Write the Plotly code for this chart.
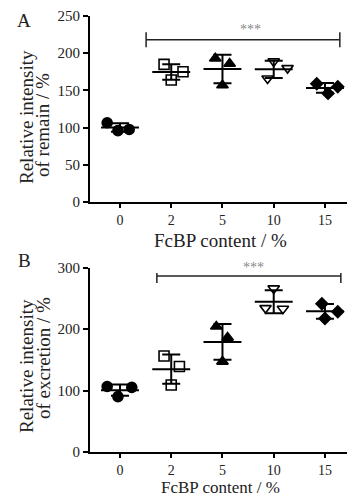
import numpy as np
import plotly.graph_objects as go

categories = ["0", "2", "5", "10", "15"]

# Panel A: relative intensity of remain (%), three replicates per group
remain = [
    [106.5, 96.0, 97.5],
    [185.0, 175.0, 164.0],
    [193.0, 186.0, 157.0],
    [189.0, 180.0, 166.0],
    [159.0, 155.0, 146.0],
]
# Panel B: relative intensity of excretion (%)
excretion = [
    [106.5, 90.0, 105.0],
    [156.0, 139.0, 109.0],
    [204.0, 186.0, 147.0],
    [266.0, 234.0, 233.0],
    [241.0, 228.0, 217.0],
]
# horizontal jitter of replicate points (category units)
jitter_A = [
    [-0.25, -0.04, 0.18],
    [-0.14, 0.23, 0.0],
    [-0.14, 0.14, 0.0],
    [0.0, 0.27, -0.12],
    [-0.16, 0.25, 0.06],
]
jitter_B = [
    [-0.25, -0.04, 0.23],
    [-0.14, 0.16, 0.0],
    [-0.12, 0.10, 0.0],
    [0.0, -0.16, 0.18],
    [-0.06, 0.25, 0.0],
]

yticks_A = [0, 50, 100, 150, 200, 250]
yticks_B = [0, 100, 200, 300]

symbols = ["circle", "square-open", "triangle-up", "triangle-down-open", "diamond"]
sizes = [10, 10, 10, 10, 9]

W, H = 347, 497
FONT = "Liberation Serif"

fig = go.Figure()


def add_panel(data, jit, xa, ya):
    xs = np.arange(len(categories))
    for i, vals in enumerate(data):
        fig.add_trace(go.Scatter(
            x=[xs[i] + j for j in jit[i]], y=vals, mode="markers",
            xaxis=xa, yaxis=ya, showlegend=False, cliponaxis=False, hoverinfo="skip",
            marker=dict(symbol=symbols[i], size=sizes[i], color="black",
                        line=dict(color="black", width=1.6)),
        ))
    means = [float(np.mean(v)) for v in data]
    sds = [float(np.std(v, ddof=1)) for v in data]
    # error bars (SD)
    fig.add_trace(go.Scatter(
        x=xs, y=means, mode="markers", xaxis=xa, yaxis=ya, showlegend=False,
        hoverinfo="skip", marker=dict(size=0.1, color="rgba(0,0,0,0)"),
        error_y=dict(type="data", array=sds, visible=True, color="black",
                     thickness=2, width=9),
    ))
    # mean lines
    lx, ly = [], []
    for i, m in enumerate(means):
        lx += [xs[i] - 0.37, xs[i] + 0.37, None]
        ly += [m, m, None]
    fig.add_trace(go.Scatter(
        x=lx, y=ly, mode="lines", xaxis=xa, yaxis=ya, showlegend=False,
        hoverinfo="skip", line=dict(color="black", width=2),
    ))


add_panel(remain, jitter_A, "x", "y")
add_panel(excretion, jitter_B, "x2", "y2")

xdom = [90 / W, 1.0]
yA = [1 - 202 / H, 1 - 16 / H]
yB = [1 - 452 / H, 1 - 267.5 / H]

base_axis = dict(showline=True, linecolor="black", linewidth=2, ticks="outside",
                 tickcolor="black", tickwidth=1.5, showgrid=False,
                 zeroline=False, automargin=False)
y_axis = dict(ticklen=5, tickfont=dict(family=FONT, size=15, color="#222"), **base_axis)
x_axis = dict(ticklen=4, tickfont=dict(family=FONT, size=14, color="#222"), **base_axis)

xr = [-0.585, 4.43]
fig.update_layout(
    width=W, height=H, margin=dict(l=0, r=0, t=0, b=0, pad=0, autoexpand=False),
    paper_bgcolor="white", plot_bgcolor="white",
    font=dict(family=FONT, color="#222"),
    xaxis=dict(domain=xdom, range=xr, tickvals=list(range(5)), ticktext=categories,
               anchor="y", **x_axis),
    yaxis=dict(domain=yA, range=[0, 250], tickvals=yticks_A, anchor="x", **y_axis),
    xaxis2=dict(domain=xdom, range=xr, tickvals=list(range(5)), ticktext=categories,
                anchor="y2", **x_axis),
    yaxis2=dict(domain=yB, range=[0, 300], tickvals=yticks_B, anchor="x2", **y_axis),
)

# significance brackets
def bracket(xref, yref, x0, x1, y, dy0, dy1, star_px):
    fig.add_shape(type="line", xref=xref, yref=yref, x0=x0, x1=x1, y0=y, y1=y,
                  line=dict(color="#222", width=1.5))
    for xx in (x0, x1):
        fig.add_shape(type="line", xref=xref, yref=yref, x0=xx, x1=xx,
                      y0=y - dy0, y1=y + dy1, line=dict(color="#222", width=1.5))
    fig.add_annotation(xref="paper", yref="paper", x=star_px[0] / W, y=1 - star_px[1] / H,
                       xanchor="center", yanchor="middle",
                       text="***", showarrow=False,
                       font=dict(family=FONT, size=14, color="#888"))

bracket("x", "y", 0.51, 4.29, 218, 10, 10, (250, 30))
bracket("x2", "y2", 0.72, 4.31, 286, 11, 5, (253, 267))

# axis titles and panel labels
ann = dict(showarrow=False, xref="paper", yref="paper", xanchor="center", yanchor="middle")
tf = dict(family=FONT, size=19, color="#222")
fig.add_annotation(x=220 / W, y=1 - 240 / H, text="FcBP content / %", font=tf, **ann)
fig.add_annotation(x=220 / W, y=1 - 487 / H, text="FcBP content / %",
                   font=dict(family=FONT, size=17, color="#222"), **ann)
fig.add_annotation(x=26 / W, y=1 - 117 / H, text="Relative intensity",
                   textangle=-90, font=tf, **ann)
fig.add_annotation(x=43 / W, y=1 - 125 / H, text="of remain / %",
                   textangle=-90, font=tf, **ann)
fig.add_annotation(x=26 / W, y=1 - 366 / H, text="Relative intensity",
                   textangle=-90, font=tf, **ann)
fig.add_annotation(x=43 / W, y=1 - 358 / H, text="of excretion / %",
                   textangle=-90, font=tf, **ann)
fig.add_annotation(x=24 / W, y=1 - 20 / H, text="A", font=tf, **ann)
fig.add_annotation(x=24 / W, y=1 - 260 / H, text="B", font=tf, **ann)

fig.write_html("out.html", config={"displayModeBar": False},
               post_script="document.body.style.margin='0';document.body.style.overflow='hidden';")
